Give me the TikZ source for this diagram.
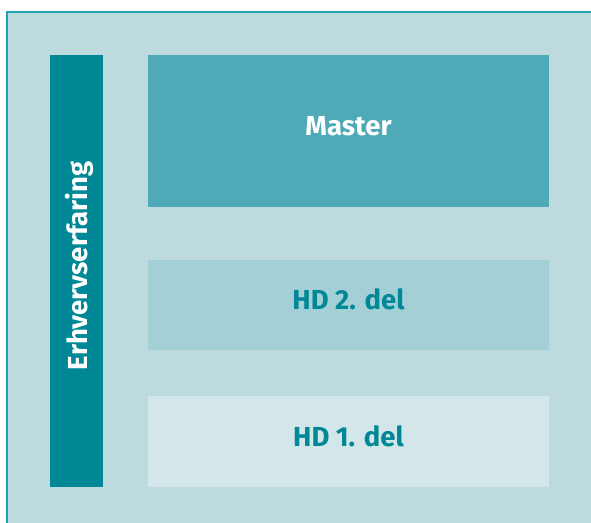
\documentclass[tikz,border=0pt]{standalone}
\usepackage{fontspec}
\setmainfont{Fira Sans}
\definecolor{bgc}{HTML}{BDDBDF}
\definecolor{framec}{HTML}{1FA3B1}
\definecolor{darkt}{HTML}{008896}
\definecolor{masterc}{HTML}{4FAAB8}
\definecolor{hdtwo}{HTML}{A3CFD6}
\definecolor{hdone}{HTML}{D3E6E9}
\begin{document}
\begin{tikzpicture}[x=1pt,y=-1pt,
  blk/.style={draw=none,minimum width=401pt,anchor=north west,inner sep=0pt},
  lbl/.style={font=\bfseries\fontsize{27.5}{30}\selectfont,inner sep=0pt,anchor=base},
  ]
\useasboundingbox (0,0) rectangle (591,522);
\fill[white] (0,0) rectangle (591,522);
\fill[bgc] (6,11) rectangle (593,524);
\draw[framec,line width=1.5pt] (6.75,524) -- (6.75,11.75) -- (593,11.75);
\node[blk,fill=darkt,minimum width=53pt,minimum height=432pt] (side) at (50,55) {};
\node[lbl,text=white,rotate=90] (sidetext) at (87,266) {Erhvervserfaring};
\node[blk,fill=masterc,minimum height=152pt] (master) at (148,55) {};
\node[blk,fill=hdtwo,minimum height=90pt] (hd2) at (148,260) {};
\node[blk,fill=hdone,minimum height=91pt] (hd1) at (148,396) {};
\node[lbl,text=white] (mastertext) at (348.5,135) {Master};
\node[lbl,text=darkt] (hd2text) at (348.5,309.5) {HD 2. del};
\node[lbl,text=darkt] (hd1text) at (348.5,446) {HD 1. del};
\end{tikzpicture}
\end{document}
